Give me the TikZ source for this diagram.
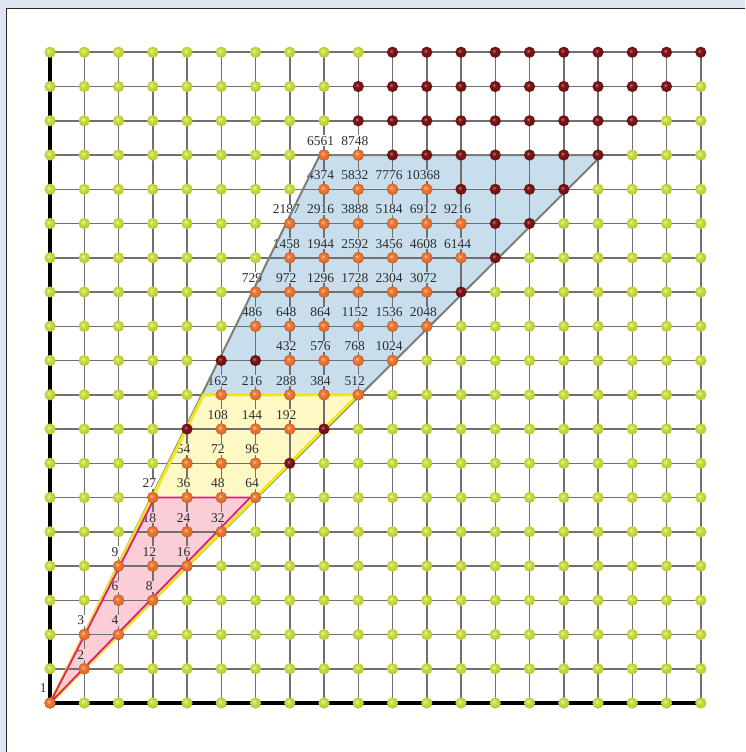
\documentclass[tikz,border=0pt]{standalone}
\usepackage{fontspec}
\setmainfont{Liberation Serif}
\definecolor{latcolor01}{RGB}{221,230,241}
\definecolor{latcolor02}{RGB}{40,40,40}
\definecolor{latcolor03}{RGB}{200,222,237}
\definecolor{latcolor04}{RGB}{253,248,196}
\definecolor{latcolor05}{RGB}{250,205,215}
\definecolor{latcolor06}{RGB}{112,112,112}
\definecolor{latcolor07}{RGB}{120,128,118}
\definecolor{latcolor08}{RGB}{240,230,30}
\definecolor{latcolor09}{RGB}{222,30,130}
\definecolor{latcolor10}{RGB}{205,222,62}
\definecolor{latcolor11}{RGB}{125,20,22}
\definecolor{latcolor12}{RGB}{240,120,48}
\definecolor{latcolor13}{RGB}{45,45,45}
\colorlet{lblcolb}{latcolor03}
\colorlet{lblcoly}{latcolor04}
\colorlet{lblcolp}{latcolor05}
\colorlet{lblcolw}{white}
\pgfdeclareradialshading{dotshade01}{\pgfpoint{-7bp}{7bp}}{color(0bp)=(latcolor10!35!white); color(9bp)=(latcolor10); color(22bp)=(latcolor10!92!black); color(28bp)=(latcolor10!80!black); color(50bp)=(latcolor10!80!black)}
\pgfdeclareradialshading{dotshade02}{\pgfpoint{-7bp}{7bp}}{color(0bp)=(latcolor11!55!white); color(9bp)=(latcolor11); color(22bp)=(latcolor11!90!black); color(28bp)=(latcolor11!75!black); color(50bp)=(latcolor11!75!black)}
\pgfdeclareradialshading{dotshade03}{\pgfpoint{-7bp}{7bp}}{color(0bp)=(latcolor12!40!white); color(9bp)=(latcolor12); color(22bp)=(latcolor12!92!black); color(28bp)=(latcolor12!80!black); color(50bp)=(latcolor12!80!black)}
\def\latlist{1/1/2/p,1/2/3/w,2/2/4/p,2/3/6/p,3/3/8/p,2/4/9/w,3/4/12/p,4/4/16/p,3/5/18/p,4/5/24/p,5/5/32/p,3/6/27/w,4/6/36/y,5/6/48/y,6/6/64/y,4/7/54/y,5/7/72/y,6/7/96/y,5/8/108/y,6/8/144/y,7/8/192/y,5/9/162/b,6/9/216/b,7/9/288/b,8/9/384/b,9/9/512/b,7/10/432/b,8/10/576/b,9/10/768/b,10/10/1024/b,6/11/486/b,7/11/648/b,8/11/864/b,9/11/1152/b,10/11/1536/b,11/11/2048/b,6/12/729/w,7/12/972/b,8/12/1296/b,9/12/1728/b,10/12/2304/b,11/12/3072/b,7/13/1458/b,8/13/1944/b,9/13/2592/b,10/13/3456/b,11/13/4608/b,12/13/6144/b,7/14/2187/w,8/14/2916/b,9/14/3888/b,10/14/5184/b,11/14/6912/b,12/14/9216/b,8/15/4374/b,9/15/5832/b,10/15/7776/b,11/15/10368/b,8/16/6561/w,9/16/8748/w}

\begin{document}
\begin{tikzpicture}[yscale=-1
,pstyle0/.style={color=latcolor02,fill=white,line width=1pt}
,pstyle1/.style={fill=latcolor03}
,pstyle2/.style={fill=latcolor04}
,pstyle3/.style={fill=latcolor05}
,pstyle4/.style={color=latcolor06,line width=1.5pt}
,pstyle5/.style={color=black,line width=4.8pt}
,pstyle6/.style={color=latcolor07,line width=2pt,line join=round}
,pstyle7/.style={color=latcolor08,line width=3pt,line join=round}
,pstyle8/.style={color=latcolor09,line width=1.8pt,line join=round}
,pstyle9/.style={shading=dotshade01}
,pstyle10/.style={shading=dotshade02}
,pstyle11/.style={shading=dotshade03}
,pstyle12/.style={anchor=base,inner sep=0.8pt,text=latcolor13,font=\fontsize{13.5pt}{15pt}\selectfont}
]
\useasboundingbox (0pt,0pt) rectangle (745pt,752pt);
\fill[latcolor01] (0pt,0pt) rectangle (745pt,752pt);
\fill[white] (6.5pt,8.5pt) rectangle (745pt,752pt);
\draw[pstyle0] (6.5pt,752pt) -- (6.5pt,8.5pt) -- (745pt,8.5pt);
\begin{scope}[shift={(50pt,703pt)},x=34.25pt,y=-34.25pt]
% regions
\fill[pstyle1] (0,0) -- (7.88,16) -- (16.12,16) -- cycle;
\fill[pstyle2] (0,0) -- (4.48,9) -- (9,9) -- cycle;
\fill[pstyle3] (0,0) -- (3.06,6) -- (5.85,6) -- cycle;
% lattice
\foreach \i in {0,...,19} {
  \draw[pstyle4] (\i,0) -- (\i,19);
  \draw[pstyle4] (0,\i) -- (19,\i);
}
\draw[pstyle5] (0,19) -- (0,0) -- (19,0);
% numbers
\foreach \x/\y/\v/\r in \latlist {
  \fill[lblcol\r] (\x-0.04,\y+0.25) rectangle (\x+0.04,\y+0.57);
  \node[pstyle12] (n\v) at (\x-0.1,\y+0.28) {\v};
}
\node[pstyle12] (n1) at (-0.2,0.3) {1};
\draw[pstyle6] (0,0) -- (7.88,16) -- (16.12,16) -- cycle;
\draw[pstyle7] (0,0) -- (4.48,9) -- (9,9) -- cycle;
\draw[pstyle8] (0,0) -- (3.06,6) -- (5.85,6) -- cycle;
% points
\foreach \y in {0,...,19} {
  \foreach \x in {0,...,19} {
    \pgfmathtruncatemacro\incone{and(\x<=\y,\y<=2*\x)}
    \ifnum\incone=1
      \shade[pstyle10] (\x,\y) circle (5.6pt);
    \else
      \shade[pstyle9] (\x,\y) circle (5.6pt);
    \fi
  }
}
\foreach \x/\y/\v/\r in \latlist {
  \shade[pstyle11] (\x,\y) circle (5.6pt);
}
\shade[pstyle11] (0,0) circle (5.6pt);
\end{scope}
\end{tikzpicture}
\end{document}
